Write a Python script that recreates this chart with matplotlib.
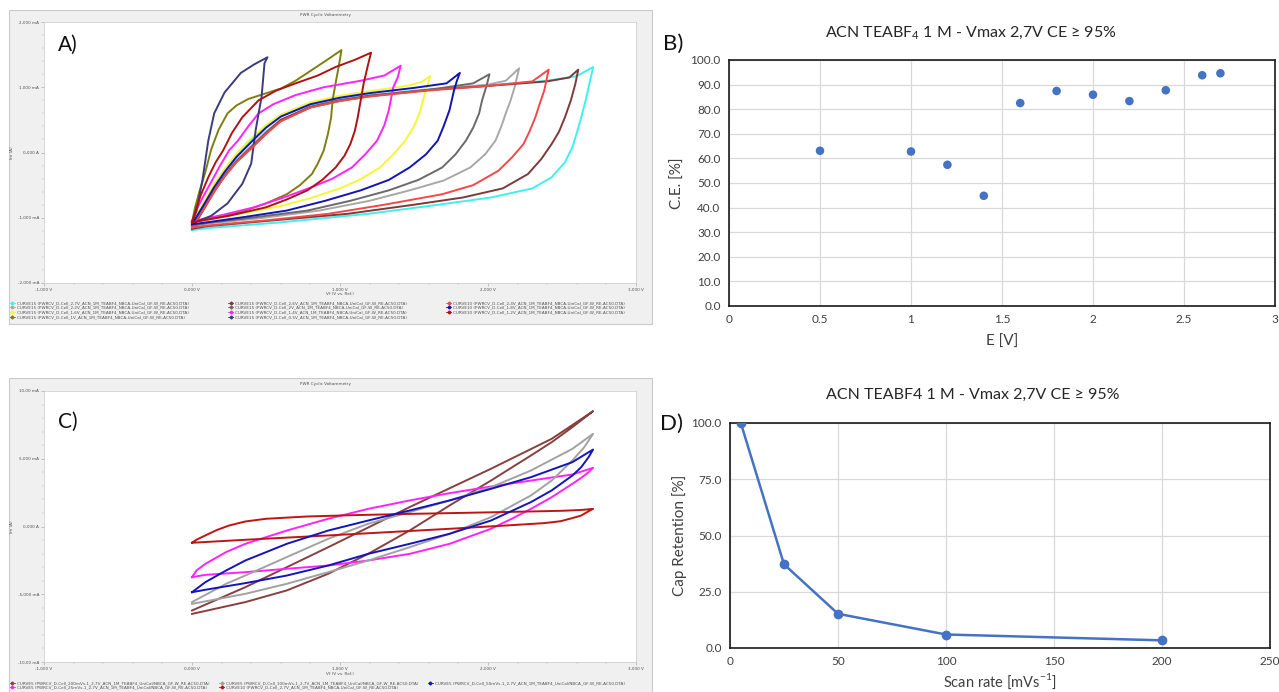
""" Composite figure: CV curves (A, C), coulombic efficiency (B), capacity retention (D). """

import numpy as np
import matplotlib
matplotlib.use('Agg')
from matplotlib import pyplot as plt
from matplotlib.lines import Line2D
from matplotlib.patches import Rectangle

plt.rcParams['font.family'] = ['Lato', 'DejaVu Sans']

# ---------------- Panel A: CV at increasing Vmax (V, mA) ----------------
A_V_27 = [0, 0.04, 0.08, 0.15, 0.22, 0.3, 0.4, 0.5, 0.6, 0.8, 1.0, 1.2, 1.6, 2.0, 2.4, 2.6, 2.71,
          2.69, 2.66, 2.63, 2.6, 2.57, 2.52, 2.43, 2.3, 2.02, 1.6, 1.19, 0.6, 0.1, 0]
A_I_27 = [-1.19, -1.02, -0.85, -0.55, -0.3, -0.05, 0.2, 0.4, 0.56, 0.73, 0.82, 0.88, 0.97, 1.03, 1.1, 1.17, 1.31,
          1.1, 0.8, 0.54, 0.3, 0.08, -0.15, -0.38, -0.55, -0.69, -0.82, -0.94, -1.07, -1.16, -1.19]
A_V_26 = [0, 0.04, 0.08, 0.15, 0.22, 0.3, 0.4, 0.5, 0.6, 0.8, 1.0, 1.2, 1.6, 2.0, 2.4, 2.55, 2.61,
          2.59, 2.56, 2.52, 2.48, 2.43, 2.36, 2.27, 2.1, 1.83, 1.5, 1.05, 0.5, 0.1, 0]
A_I_26 = [-1.17, -1.02, -0.87, -0.6, -0.36, -0.14, 0.08, 0.3, 0.5, 0.7, 0.8, 0.87, 0.96, 1.02, 1.09, 1.15, 1.27,
          1.05, 0.8, 0.54, 0.32, 0.13, -0.1, -0.33, -0.55, -0.69, -0.8, -0.94, -1.05, -1.13, -1.17]
A_V_24 = [0, 0.04, 0.08, 0.15, 0.22, 0.3, 0.4, 0.5, 0.6, 0.8, 1.0, 1.2, 1.6, 2.0, 2.3, 2.41,
          2.38, 2.35, 2.32, 2.28, 2.24, 2.16, 2.07, 1.9, 1.69, 1.3, 0.92, 0.5, 0.1, 0]
A_I_24 = [-1.15, -1.0, -0.86, -0.6, -0.37, -0.15, 0.06, 0.28, 0.48, 0.69, 0.79, 0.86, 0.95, 1.02, 1.09, 1.27,
          0.95, 0.75, 0.54, 0.32, 0.13, -0.08, -0.28, -0.5, -0.64, -0.8, -0.94, -1.04, -1.12, -1.15]
A_V_22 = [0, 0.04, 0.08, 0.15, 0.22, 0.3, 0.4, 0.5, 0.6, 0.8, 1.0, 1.2, 1.6, 2.0, 2.12, 2.21,
          2.18, 2.15, 2.12, 2.09, 2.05, 1.98, 1.88, 1.7, 1.47, 1.2, 0.86, 0.45, 0.1, 0]
A_I_22 = [-1.12, -0.97, -0.83, -0.57, -0.34, -0.12, 0.1, 0.32, 0.5, 0.7, 0.8, 0.87, 0.96, 1.04, 1.1, 1.29,
          1.0, 0.78, 0.6, 0.4, 0.18, -0.03, -0.23, -0.43, -0.58, -0.74, -0.89, -1.01, -1.09, -1.12]
A_V_20 = [0, 0.04, 0.08, 0.15, 0.22, 0.3, 0.4, 0.5, 0.6, 0.8, 1.0, 1.2, 1.6, 1.9, 2.01,
          1.99, 1.96, 1.94, 1.9, 1.85, 1.78, 1.69, 1.53, 1.33, 1.07, 0.78, 0.4, 0.1, 0]
A_I_20 = [-1.12, -0.98, -0.84, -0.59, -0.36, -0.14, 0.07, 0.3, 0.48, 0.69, 0.79, 0.86, 0.96, 1.06, 1.2,
          1.02, 0.8, 0.6, 0.38, 0.18, -0.03, -0.23, -0.42, -0.58, -0.74, -0.89, -1.0, -1.08, -1.12]
A_V_18 = [0, 0.04, 0.08, 0.15, 0.22, 0.3, 0.4, 0.5, 0.6, 0.8, 1.0, 1.2, 1.5, 1.72, 1.81,
          1.79, 1.77, 1.74, 1.7, 1.66, 1.58, 1.47, 1.33, 1.14, 0.9, 0.64, 0.35, 0.1, 0]
A_I_18 = [-1.1, -0.95, -0.8, -0.53, -0.3, -0.07, 0.16, 0.38, 0.55, 0.74, 0.84, 0.91, 0.99, 1.06, 1.22,
          1.1, 0.95, 0.65, 0.4, 0.18, -0.03, -0.23, -0.42, -0.58, -0.74, -0.89, -0.99, -1.07, -1.1]
A_V_16 = [0, 0.04, 0.08, 0.15, 0.22, 0.3, 0.4, 0.5, 0.6, 0.8, 1.0, 1.2, 1.45, 1.55, 1.61,
          1.59, 1.57, 1.54, 1.5, 1.44, 1.36, 1.27, 1.13, 1.0, 0.8, 0.6, 0.3, 0.08, 0]
A_I_16 = [-1.07, -0.92, -0.76, -0.48, -0.25, -0.02, 0.22, 0.42, 0.58, 0.77, 0.87, 0.94, 1.02, 1.08, 1.17,
          1.02, 0.88, 0.62, 0.4, 0.18, -0.03, -0.23, -0.42, -0.55, -0.7, -0.82, -0.95, -1.04, -1.07]
A_V_14 = [0, 0.03, 0.07, 0.13, 0.19, 0.25, 0.31, 0.38, 0.45, 0.55, 0.7, 0.89, 1.14, 1.3, 1.41,
          1.39, 1.36, 1.33, 1.3, 1.25, 1.17, 1.08, 0.95, 0.81, 0.62, 0.42, 0.2, 0.05, 0]
A_I_14 = [-1.05, -0.88, -0.7, -0.45, -0.2, 0.03, 0.18, 0.4, 0.6, 0.74, 0.88, 1.0, 1.1, 1.18, 1.33,
          1.15, 1.0, 0.65, 0.42, 0.18, -0.03, -0.23, -0.4, -0.53, -0.69, -0.84, -0.96, -1.03, -1.05]
A_V_12 = [0, 0.03, 0.06, 0.11, 0.16, 0.21, 0.27, 0.34, 0.45, 0.57, 0.7, 0.85, 0.97, 1.1, 1.21,
          1.19, 1.16, 1.14, 1.12, 1.1, 1.07, 1.03, 0.97, 0.88, 0.78, 0.64, 0.5, 0.25, 0.05, 0]
A_I_12 = [-1.07, -0.85, -0.65, -0.38, -0.15, 0.03, 0.3, 0.54, 0.8, 0.95, 1.06, 1.18, 1.31, 1.42, 1.53,
          1.35, 1.06, 0.8, 0.54, 0.33, 0.13, -0.05, -0.23, -0.42, -0.58, -0.72, -0.84, -0.97, -1.05, -1.07]
A_V_10 = [0, 0.02, 0.05, 0.09, 0.13, 0.18, 0.24, 0.3, 0.38, 0.49, 0.6, 0.7, 0.8, 0.9, 1.01,
          0.99, 0.97, 0.95, 0.94, 0.92, 0.89, 0.85, 0.81, 0.73, 0.64, 0.5, 0.36, 0.18, 0.04, 0]
A_I_10 = [-1.07, -0.85, -0.6, -0.3, 0.05, 0.35, 0.6, 0.72, 0.82, 0.9, 0.98, 1.1, 1.25, 1.4, 1.57,
          1.3, 1.06, 0.8, 0.54, 0.3, 0.03, -0.17, -0.33, -0.5, -0.64, -0.78, -0.89, -0.99, -1.05, -1.07]
A_V_05 = [0, 0.03, 0.07, 0.11, 0.15, 0.22, 0.33, 0.42, 0.51,
          0.49, 0.47, 0.45, 0.43, 0.4, 0.34, 0.24, 0.13, 0.03, 0]
A_I_05 = [-1.07, -0.9, -0.43, 0.18, 0.6, 0.92, 1.22, 1.35, 1.46,
          1.37, 0.85, 0.6, 0.34, -0.17, -0.48, -0.78, -0.97, -1.06, -1.07]

A_TAIL = '_ACN_1M_TEABF4_NBCA-UniCal_GF-W_RE-AC50.DTA)'
# legend order (column-major, 3 columns)
A_LABELS = ['CURVE15 (PWRCV_D-Cell_2,7V' + A_TAIL,
            'CURVE15 (PWRCV_D-Cell_2,2V' + A_TAIL,
            'CURVE15 (PWRCV_D-Cell_1,6V' + A_TAIL,
            'CURVE15 (PWRCV_D-Cell_1V' + A_TAIL,
            'CURVE15 (PWRCV_D-Cell_2,6V' + A_TAIL,
            'CURVE15 (PWRCV_D-Cell_2V' + A_TAIL,
            'CURVE15 (PWRCV_D-Cell_1,4V' + A_TAIL,
            'CURVE15 (PWRCV_D-Cell_0,5V' + A_TAIL,
            'CURVE10 (PWRCV_D-Cell_2,4V' + A_TAIL,
            'CURVE10 (PWRCV_D-Cell_1,8V' + A_TAIL,
            'CURVE10 (PWRCV_D-Cell_1,2V' + A_TAIL]
A_CURVES = [(A_V_27, A_I_27), (A_V_22, A_I_22), (A_V_16, A_I_16), (A_V_10, A_I_10),
            (A_V_26, A_I_26), (A_V_20, A_I_20), (A_V_14, A_I_14), (A_V_05, A_I_05),
            (A_V_24, A_I_24), (A_V_18, A_I_18), (A_V_12, A_I_12)]
A_COLORS = ['#3ff0f0', '#a8a8a8', '#f5f53a', '#7f7f10',
            '#7e3a3a', '#6a6a6a', '#ff22ff', '#3c3c7c',
            '#f44848', '#1414b4', '#b01212']

# ---------------- Panel C: CV at 2.7 V, different scan rates ----------------
C_V_200 = [0, 0.36, 0.92, 1.47, 2.02, 2.43, 2.71,
           2.57, 2.43, 2.29, 2.02, 1.74, 1.47, 1.19, 0.92, 0.64, 0.36, 0]
C_I_200 = [-6.2, -4.48, -1.53, 1.43, 4.26, 6.47, 8.51,
           7.33, 6.22, 5.24, 3.39, 1.55, -0.3, -2.02, -3.49, -4.72, -5.58, -6.45]
C_V_25 = [0, 0.03, 0.09, 0.23, 0.36, 0.64, 0.92, 1.19, 1.47, 1.74, 2.02, 2.29, 2.57, 2.71,
          2.68, 2.63, 2.57, 2.43, 2.29, 2.16, 2.02, 1.74, 1.47, 1.19, 0.92, 0.64, 0.36, 0.09, 0]
C_I_25 = [-3.74, -3.25, -2.76, -1.89, -1.28, -0.3, 0.57, 1.3, 1.92, 2.46, 2.95, 3.39, 3.84, 4.33,
          4.01, 3.59, 3.15, 2.16, 1.3, 0.57, -0.17, -1.28, -2.02, -2.51, -2.88, -3.12, -3.37, -3.57, -3.74]
C_V_100 = [0, 0.23, 0.36, 0.64, 0.92, 1.19, 1.47, 1.74, 2.02, 2.29, 2.57, 2.71,
           2.65, 2.57, 2.43, 2.29, 2.02, 1.74, 1.47, 1.19, 0.92, 0.64, 0.36, 0]
C_I_100 = [-5.58, -4.23, -3.62, -2.26, -0.91, 0.2, 1.06, 1.92, 2.9, 4.13, 5.73, 6.84,
           5.85, 4.87, 3.39, 2.29, 0.69, -0.54, -1.53, -2.51, -3.37, -4.23, -4.97, -5.71]
C_V_5 = [0, 0.03, 0.09, 0.17, 0.25, 0.36, 0.5, 0.78, 1.1, 1.47, 1.9, 2.29, 2.5, 2.63, 2.71,
         2.68, 2.63, 2.57, 2.49, 2.38, 2.16, 1.74, 0.92, 0.36, 0]
C_I_5 = [-1.2, -0.98, -0.66, -0.25, 0.07, 0.37, 0.57, 0.74, 0.84, 0.93, 1.02, 1.11, 1.16, 1.22, 1.3,
         1.13, 0.81, 0.62, 0.39, 0.25, 0.1, -0.17, -0.66, -0.98, -1.2]
C_V_50 = [0, 0.09, 0.23, 0.36, 0.64, 0.92, 1.19, 1.47, 1.74, 2.02, 2.29, 2.57, 2.71,
          2.68, 2.63, 2.57, 2.43, 2.29, 2.02, 1.74, 1.47, 1.19, 0.92, 0.64, 0.36, 0.09, 0]
C_I_50 = [-4.85, -4.11, -3.25, -2.51, -1.28, -0.3, 0.44, 1.18, 1.92, 2.78, 3.64, 4.75, 5.68,
          5.12, 4.38, 3.76, 2.66, 1.8, 0.44, -0.54, -1.28, -2.02, -2.88, -3.62, -4.18, -4.67, -4.85]

C_TAIL = '_2,7V_ACN_1M_TEABF4_UniCal/NBCA_GF-W_RE-AC50.DTA)'
C_LABELS = ['CURVE5 (PWRCV_D-Cell_200mVs-1' + C_TAIL,
            'CURVE5 (PWRCV_D-Cell_25mVs-1' + C_TAIL,
            'CURVE5 (PWRCV_D-Cell_100mVs-1' + C_TAIL,
            'CURVE10 (PWRCV_D-Cell_2,7V_ACN_1M_TEABF4_NBCA-UniCal_GF-W_RE-AC50.DTA)',
            'CURVE5 (PWRCV_D-Cell_50mVs-1' + C_TAIL]
C_CURVES = [(C_V_200, C_I_200), (C_V_25, C_I_25), (C_V_100, C_I_100),
            (C_V_5, C_I_5), (C_V_50, C_I_50)]
C_COLORS = ['#874040', '#ff22ff', '#a2a2a2', '#c01414', '#1414bc']

# ---------------- Panel B: coulombic efficiency ----------------
B_E = [0.5, 1.0, 1.2, 1.4, 1.6, 1.8, 2.0, 2.2, 2.4, 2.6, 2.7]
B_CE = [63.1, 62.8, 57.4, 44.8, 82.5, 87.4, 85.9, 83.3, 87.7, 93.8, 94.6]

# ---------------- Panel D: capacity retention ----------------
D_RATE = [5, 25, 50, 100, 200]
D_RET = [100.0, 37.2, 15.2, 6.0, 3.4]

W, H = 1279, 692
BLUE = '#4472C4'


def box(x0, y0, x1, y1):
    """ pixel box (top-left origin) -> figure fraction """
    return [x0 / W, 1 - y1 / H, (x1 - x0) / W, (y1 - y0) / H]


def ftext(x, y, s, **kw):
    fig.text(x / W, 1 - y / H, s, **kw)


def pwr_panel(ax, curves, colors, labels, ylim, yticks, yticklabels, title_y, leg_top):
    for (v, i), c in zip(curves, colors):
        ax.plot(v, i, color=c, lw=1.4, solid_joinstyle='round')
    ax.set_xlim(-1, 3)
    ax.set_ylim(*ylim)
    ax.set_xticks([-1, 0, 1, 2, 3])
    ax.set_xticklabels(['-1,000 V', '0,000 V', '1,000 V', '2,000 V', '3,000 V'])
    ax.set_xticks(np.arange(-1, 3.01, 0.2), minor=True)
    ax.set_yticks(yticks)
    ax.set_yticklabels(yticklabels)
    ax.set_yticks(np.linspace(ylim[0], ylim[1], 21), minor=True)
    ax.tick_params(labelsize=3.0, colors='#9a9a9a', labelcolor='#505050', length=2.0,
                   width=0.4, pad=1.5)
    ax.tick_params(which='minor', length=1.2, width=0.3, colors='#b0b0b0')
    for lab in ax.get_xticklabels() + ax.get_yticklabels():
        lab.set_family('DejaVu Sans')
    for s in ax.spines.values():
        s.set_color('#c8c8c8')
        s.set_linewidth(0.5)
    ax.set_xlabel('Vf (V vs. Ref.)', fontsize=3.0, color='#505050', family='DejaVu Sans')
    ax.set_ylabel('Im (A)', fontsize=3.0, color='#505050', family='DejaVu Sans')
    ax.xaxis.set_label_coords(0.5, -0.036)
    ax.yaxis.set_label_coords(-0.051, 0.5)
    ftext(325, title_y, 'PWR Cyclic Voltammetry', fontsize=3.0, color='#505050',
          family='DejaVu Sans', ha='center', va='center')
    handles = [Line2D([], [], color=c, marker='D', markersize=1.5, lw=0.6) for c in colors]
    ax_w = 592.
    ax_h = ax.get_position().height * H
    ax_bot = (1 - ax.get_position().y0) * H
    ax.legend(handles, labels, ncol=3, loc='upper left', mode='expand',
              bbox_to_anchor=((10 - 44) / ax_w, -(leg_top - ax_bot) / ax_h, 615 / ax_w, 0),
              frameon=False, handlelength=1.2, handletextpad=0.5,
              labelspacing=0.2, borderpad=0, borderaxespad=0, labelcolor='#505050',
              prop={'family': 'DejaVu Sans', 'size': 3.0})


fig = plt.figure(figsize=(W / 100, H / 100), dpi=100)
fig.patch.set_facecolor('white')

# screenshot frames for A and C
for (x0, y0, x1, y1) in [(9, 10, 652, 324), (9, 378, 652, 700)]:
    fig.add_artist(Rectangle((x0 / W, 1 - y1 / H), (x1 - x0) / W, (y1 - y0) / H,
                             transform=fig.transFigure, facecolor='#f0f0f0',
                             edgecolor='#cacaca', lw=0.8, zorder=0))

# ---- A ----
axA = fig.add_axes(box(44, 22, 636, 283))
pwr_panel(axA, A_CURVES, A_COLORS, A_LABELS, (-2, 2), [-2, -1, 0, 1, 2],
          ['-2,000 mA', '-1,000 mA', '0,000 A', '1,000 mA', '2,000 mA'], 15, 301)
ftext(58, 45, 'A)', fontsize=15, color='#111111', va='center')

# ---- C ----
axC = fig.add_axes(box(44, 391, 636, 662))
pwr_panel(axC, C_CURVES, C_COLORS, C_LABELS, (-10, 10), [-10, -5, 0, 5, 10],
          ['-10,00 mA', '-5,000 mA', '0,000 A', '5,000 mA', '10,00 mA'], 384, 681)
ftext(58, 422, 'C)', fontsize=15, color='#111111', va='center')

# ---- B ----
axB = fig.add_axes(box(729, 60, 1275, 306))
axB.scatter(B_E, B_CE, s=38, color=BLUE, zorder=3, edgecolors='none')
axB.set_xlim(0, 3)
axB.set_ylim(0, 100)
axB.set_xticks([0, 0.5, 1, 1.5, 2, 2.5, 3])
axB.set_xticklabels(['0', '0.5', '1', '1.5', '2', '2.5', '3'])
axB.set_yticks(np.arange(0, 101, 10))
axB.set_yticklabels([f'{v:.1f}' for v in np.arange(0, 101, 10)])
axB.set_xlabel('E [V]', fontsize=11, color='#404040')
axB.set_ylabel('C.E. [%]', fontsize=11, color='#404040')
axB.xaxis.set_label_coords(0.5, -0.145)
axB.yaxis.set_label_coords(-0.093, 0.5)
axB.xaxis.label.set_va('center')
axB.yaxis.label.set_va('center')
ftext(971, 33, r'ACN TEABF$_\mathregular{4}$ 1 M - Vmax 2,7V CE ≥ 95%', fontsize=11.5,
      color='#262626', ha='center', va='center')
ftext(663, 44, 'B)', fontsize=16, color='#111111', va='center')

# ---- D ----
axD = fig.add_axes(box(730, 423, 1270, 648))
axD.plot(D_RATE, D_RET, color=BLUE, lw=1.8, marker='o', markersize=6, zorder=3)
axD.set_xlim(0, 250)
axD.set_ylim(0, 100)
axD.set_xticks(np.arange(0, 251, 50))
axD.set_yticks(np.arange(0, 101, 25))
axD.set_yticklabels([f'{v:.1f}' for v in np.arange(0, 101, 25)])
axD.set_xlabel(r'Scan rate [mVs$^\mathregular{-1}$]', fontsize=10.5, color='#404040')
axD.set_ylabel('Cap Retention [%]', fontsize=11, color='#404040')
axD.xaxis.set_label_coords(0.5, -0.15)
axD.yaxis.set_label_coords(-0.094, 0.5)
axD.xaxis.label.set_va('center')
axD.yaxis.label.set_va('center')
ftext(973, 395, 'ACN TEABF4 1 M - Vmax 2,7V CE ≥ 95%', fontsize=11.5,
      color='#262626', ha='center', va='center')
ftext(660, 424, 'D)', fontsize=16, color='#111111', va='center')

for ax in (axB, axD):
    ax.grid(True, color='#d9d9d9', lw=0.9)
    ax.set_axisbelow(True)
    ax.tick_params(length=0, labelsize=8.5, labelcolor='#404040', pad=6)
    for s in ax.spines.values():
        s.set_color('#1a1a1a')
        s.set_linewidth(1.2)

outfile = 'out.png'
plt.savefig(outfile, dpi=100)
print(f'Saved: {outfile}')
